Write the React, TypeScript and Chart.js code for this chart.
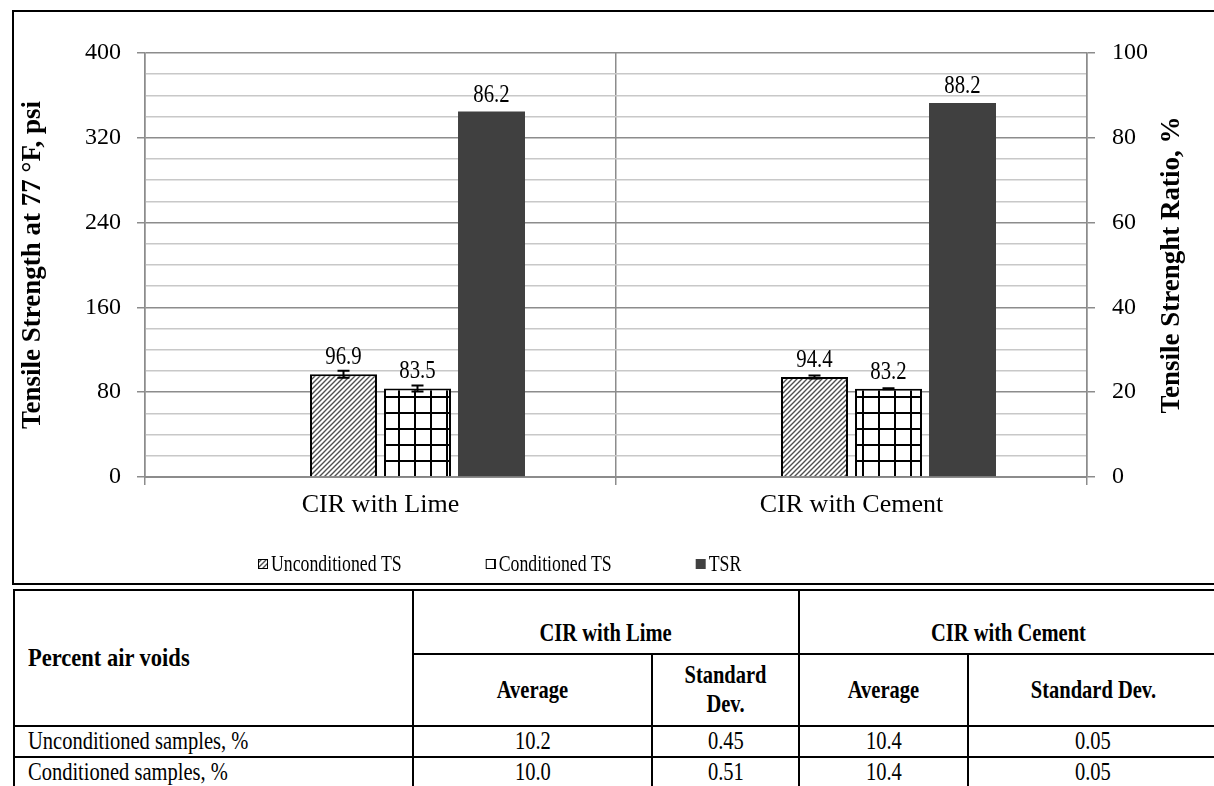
import React, { useEffect, useRef } from "react";
import { Chart, registerables } from "chart.js";

Chart.register(...registerables);

const FONT = '"Liberation Serif", "Times New Roman", serif';

const categories = ["CIR with Lime", "CIR with Cement"];
const unconditionedTS = [96.9, 94.4];
const conditionedTS = [83.5, 83.2];
const tsr = [86.2, 88.2];
const unconditionedErr = [3.3, 1.4];
const conditionedErr = [2.8, 0.5];
const spacer = [null, null];
const leftTicks = [0, 80, 160, 240, 320, 400];
const rightTicks = [0, 20, 40, 60, 80, 100];
const leftTitle = "Tensile Strength at 77 °F, psi";
const rightTitle = "Tensile Strenght Ratio, %";

const tableCorner = "Percent air voids";
const tableGroups = ["CIR with Lime", "CIR with Cement"];
const tableSubHeads = ["Average", "Standard Dev."];
const tableRows = ["Unconditioned samples, %", "Conditioned samples, %"];
const limeAvg = ["10.2", "10.0"];
const limeStd = ["0.45", "0.51"];
const cementAvg = ["10.4", "10.4"];
const cementStd = ["0.05", "0.05"];

const MAJOR = "#8c8c8c";
const MINOR = "#c8c8c8";
const SQ = 0.8; // horizontal squeeze of the narrow serif text in the figure

function makeHatch(ctx: CanvasRenderingContext2D) {
  const s = 5;
  const c = document.createElement("canvas");
  c.width = s;
  c.height = s;
  const g = c.getContext("2d")!;
  g.fillStyle = "#ffffff";
  g.fillRect(0, 0, s, s);
  g.strokeStyle = "#505050";
  g.lineWidth = 1.4;
  g.beginPath();
  g.moveTo(-1, s + 1);
  g.lineTo(s + 1, -1);
  g.moveTo(-s / 2 - 1, s / 2 + 1);
  g.lineTo(s / 2 + 1, -s / 2 - 1);
  g.moveTo(s / 2 - 1, s * 1.5 + 1);
  g.lineTo(s * 1.5 + 1, s / 2 - 1);
  g.stroke();
  return ctx.createPattern(c, "repeat")!;
}

function makeGrid(ctx: CanvasRenderingContext2D) {
  const s = 16;
  const c = document.createElement("canvas");
  c.width = s;
  c.height = s;
  const g = c.getContext("2d")!;
  g.fillStyle = "#ffffff";
  g.fillRect(0, 0, s, s);
  g.fillStyle = "#000000";
  g.fillRect(0, 0, 2, s);
  g.fillRect(0, 0, s, 2);
  return ctx.createPattern(c, "repeat")!;
}

const errorBars = {
  id: "errorBars",
  afterDatasetsDraw(chart: any) {
    const ctx = chart.ctx;
    const y = chart.scales.y;
    const sets: [number, number[]][] = [
      [1, unconditionedErr],
      [2, conditionedErr],
    ];
    ctx.save();
    ctx.strokeStyle = "#000";
    ctx.lineWidth = 2;
    sets.forEach(([di, errs]) => {
      const meta = chart.getDatasetMeta(di);
      meta.data.forEach((bar: any, i: number) => {
        const v = chart.data.datasets[di].data[i] as number;
        const top = y.getPixelForValue(v + errs[i]);
        const bot = y.getPixelForValue(v - errs[i]);
        const x = bar.x;
        ctx.beginPath();
        ctx.moveTo(x, top);
        ctx.lineTo(x, bot);
        ctx.moveTo(x - 6, top);
        ctx.lineTo(x + 6, top);
        ctx.moveTo(x - 6, bot);
        ctx.lineTo(x + 6, bot);
        ctx.stroke();
      });
    });
    ctx.restore();
  },
};

const valueLabels = {
  id: "valueLabels",
  afterDatasetsDraw(chart: any) {
    const ctx = chart.ctx;
    chart.data.datasets.forEach((ds: any, di: number) => {
      if (!ds.label) return;
      chart.getDatasetMeta(di).data.forEach((bar: any, i: number) => {
        const v = ds.data[i];
        if (v == null) return;
        ctx.save();
        ctx.font = `26px ${FONT}`;
        ctx.fillStyle = "#000";
        ctx.textAlign = "center";
        ctx.textBaseline = "alphabetic";
        ctx.translate(bar.x, bar.y - 10);
        ctx.scale(SQ, 1);
        ctx.fillText(Number(v).toFixed(1), 0, 0);
        ctx.restore();
      });
    });
  },
};

const rightTitlePlugin = {
  id: "rightTitle",
  afterDraw(chart: any) {
    const ctx = chart.ctx;
    const s = chart.scales.y1;
    const area = chart.chartArea;
    ctx.save();
    ctx.translate(s.right - 3 - 16.2, (area.top + area.bottom) / 2);
    ctx.rotate(-Math.PI / 2);
    ctx.font = `bold 27px ${FONT}`;
    ctx.fillStyle = "#000";
    ctx.textAlign = "center";
    ctx.textBaseline = "middle";
    ctx.fillText(rightTitle, 0, 0);
    ctx.restore();
  },
};

const legendPlugin = {
  id: "customLegend",
  afterDraw(chart: any) {
    const ctx = chart.ctx;
    const items = chart.data.datasets.filter((d: any) => d.label);
    const box = 10;
    const gapText = 3;
    const gapItem = 84;
    const squeeze = 0.74;
    let x = chart.chartArea.left + 113;
    const y = chart.height - 19;
    items.forEach((d: any) => {
      ctx.save();
      ctx.fillStyle = d.backgroundColor;
      ctx.fillRect(x, y - box / 2, box, box);
      if (d.borderWidth) {
        ctx.strokeStyle = "#000";
        ctx.lineWidth = 1;
        ctx.strokeRect(x + 0.5, y - box / 2 + 0.5, box - 1, box - 1);
      }
      ctx.font = `24px ${FONT}`;
      const w = ctx.measureText(d.label).width * squeeze;
      ctx.fillStyle = "#000";
      ctx.textAlign = "left";
      ctx.textBaseline = "middle";
      ctx.translate(x + box + gapText, y + 1);
      ctx.scale(squeeze, 1);
      ctx.fillText(d.label, 0, 0);
      ctx.restore();
      x += box + gapText + w + gapItem;
    });
  },
};

const CW = 1247;
const CH = 571;

function Sq({
  children,
  origin = "center",
  k = 0.82,
}: {
  children: React.ReactNode;
  origin?: string;
  k?: number;
}) {
  return (
    <span
      style={{
        display: "inline-block",
        transform: `scaleX(${k})`,
        transformOrigin: origin,
      }}
    >
      {children}
    </span>
  );
}

export default function App() {
  const ref = useRef<HTMLCanvasElement>(null);

  useEffect(() => {
    const canvas = ref.current!;
    const ctx = canvas.getContext("2d")!;
    const hatch = makeHatch(ctx);
    const grid = makeGrid(ctx);
    const barOpts = { categoryPercentage: 0.6285, barPercentage: 0.905 };
    const chart = new Chart(canvas, {
      type: "bar",
      data: {
        labels: categories,
        datasets: [
          {
            label: "",
            data: spacer as any,
            yAxisID: "y",
            backgroundColor: "rgba(0,0,0,0)",
            borderWidth: 0,
            ...barOpts,
          },
          {
            label: "Unconditioned TS",
            data: unconditionedTS,
            yAxisID: "y",
            backgroundColor: hatch as any,
            borderColor: "#000",
            borderWidth: 2,
            ...barOpts,
          },
          {
            label: "Conditioned TS",
            data: conditionedTS,
            yAxisID: "y",
            backgroundColor: grid as any,
            borderColor: "#000",
            borderWidth: 2,
            ...barOpts,
          },
          {
            label: "TSR",
            data: tsr,
            yAxisID: "y1",
            backgroundColor: "#404040",
            borderWidth: 0,
            ...barOpts,
          },
        ],
      },
      options: {
        animation: false,
        responsive: false,
        maintainAspectRatio: false,
        layout: { padding: { left: 0, right: 70, top: 41, bottom: 61 } },
        plugins: {
          legend: { display: false },
          tooltip: { enabled: false },
        },
        scales: {
          x: {
            offset: true,
            grid: {
              offset: true,
              color: MAJOR,
              lineWidth: 1.5,
              tickLength: 8,
              drawTicks: true,
            },
            border: { color: MAJOR, width: 2 },
            ticks: {
              color: "#000",
              font: { family: FONT, size: 26 },
              padding: 5,
              maxRotation: 0,
              autoSkip: false,
            },
            afterFit: (s: any) => {
              s.height = 45;
            },
          },
          y: {
            position: "left",
            min: leftTicks[0],
            max: leftTicks[leftTicks.length - 1],
            ticks: {
              stepSize: 20,
              autoSkip: false,
              padding: 16,
              color: "#000",
              font: { family: FONT, size: 24 },
              callback: (v: any) => (leftTicks.includes(Number(v)) ? String(v) : ""),
            },
            grid: {
              color: (c: any) =>
                c.tick && leftTicks.includes(c.tick.value) ? MAJOR : MINOR,
              tickColor: (c: any) =>
                c.tick && leftTicks.includes(c.tick.value) ? MAJOR : "rgba(0,0,0,0)",
              lineWidth: 1.5,
              tickLength: 8,
            },
            border: { color: MAJOR, width: 1.5 },
            title: {
              display: true,
              text: leftTitle,
              color: "#000",
              font: { family: FONT, size: 27, weight: "bold" },
              padding: { top: 3, bottom: 0 },
            },
            afterFit: (s: any) => {
              s.width = 131;
            },
          },
          y1: {
            position: "right",
            min: rightTicks[0],
            max: rightTicks[rightTicks.length - 1],
            ticks: {
              stepSize: 5,
              autoSkip: false,
              padding: 17,
              color: "#000",
              font: { family: FONT, size: 24 },
              callback: (v: any) => (rightTicks.includes(Number(v)) ? String(v) : ""),
            },
            grid: {
              drawOnChartArea: false,
              color: MAJOR,
              tickColor: (c: any) =>
                c.tick && rightTicks.includes(c.tick.value) ? MAJOR : "rgba(0,0,0,0)",
              lineWidth: 1.5,
              tickLength: 8,
            },
            border: { color: MAJOR, width: 1.5 },
            afterFit: (s: any) => {
              s.width = 104;
            },
          },
        },
      } as any,
      plugins: [errorBars, valueLabels, rightTitlePlugin, legendPlugin],
    });
    return () => chart.destroy();
  }, []);

  const cell: React.CSSProperties = {
    border: "2px solid #000",
    padding: "0 8px",
    textAlign: "center",
    verticalAlign: "middle",
    lineHeight: 1.15,
  };
  const head: React.CSSProperties = { ...cell, fontWeight: "bold" };
  const colWidths = [399, 239, 147, 169, 250];

  return (
    <div
      style={{
        position: "fixed",
        left: 0,
        top: 0,
        width: 1214,
        height: 786,
        overflow: "hidden",
        background: "#fff",
        fontFamily: FONT,
      }}
    >
      <div
        style={{
          position: "absolute",
          left: 12,
          top: 10,
          width: CW,
          height: CH,
          border: "2px solid #000",
        }}
      >
        <canvas
          ref={ref}
          width={CW}
          height={CH}
          style={{ display: "block", width: CW, height: CH }}
        />
      </div>
      <table
        style={{
          position: "absolute",
          left: 13,
          top: 589,
          width: colWidths.reduce((a, b) => a + b, 0),
          borderCollapse: "collapse",
          tableLayout: "fixed",
          fontFamily: FONT,
          fontSize: 25,
          color: "#000",
        }}
      >
        <colgroup>
          {colWidths.map((w, i) => (
            <col key={i} style={{ width: w }} />
          ))}
        </colgroup>
        <tbody>
          <tr style={{ height: 64 }}>
            <td rowSpan={2} style={{ ...head, textAlign: "left", paddingLeft: 13 }}>
              <Sq origin="left" k={0.9}>
                {tableCorner}
              </Sq>
            </td>
            {tableGroups.map((g) => (
              <td
                key={g}
                colSpan={2}
                style={{ ...head, verticalAlign: "bottom", paddingBottom: 5 }}
              >
                <Sq>{g}</Sq>
              </td>
            ))}
          </tr>
          <tr style={{ height: 72 }}>
            {tableGroups.map((g) =>
              tableSubHeads.map((h) => (
                <td key={g + h} style={head}>
                  <Sq>{h}</Sq>
                </td>
              ))
            )}
          </tr>
          {tableRows.map((r, i) => (
            <tr key={r} style={{ height: 31 }}>
              <td style={{ ...cell, textAlign: "left", paddingLeft: 13 }}>
                <Sq origin="left">{r}</Sq>
              </td>
              <td style={cell}>
                <Sq>{limeAvg[i]}</Sq>
              </td>
              <td style={cell}>
                <Sq>{limeStd[i]}</Sq>
              </td>
              <td style={cell}>
                <Sq>{cementAvg[i]}</Sq>
              </td>
              <td style={cell}>
                <Sq>{cementStd[i]}</Sq>
              </td>
            </tr>
          ))}
        </tbody>
      </table>
    </div>
  );
}
